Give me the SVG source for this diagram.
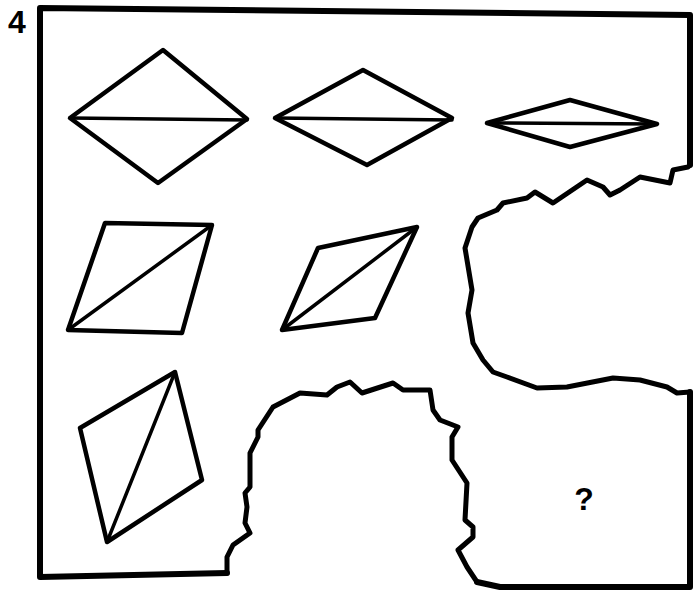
<svg xmlns="http://www.w3.org/2000/svg" width="697" height="591" viewBox="0 0 697 591">
<style>
.frame{fill:none;stroke:#000;stroke-width:6;stroke-linejoin:round;stroke-linecap:round}
.tear{fill:none;stroke:#000;stroke-width:5;stroke-linejoin:round;stroke-linecap:round}
.fig{fill:none;stroke:#000;stroke-width:4.5;stroke-linejoin:round;stroke-linecap:round}
.diag{fill:none;stroke:#000;stroke-width:3.5;stroke-linecap:round}
.lbl{font-family:"Liberation Sans","DejaVu Sans",sans-serif;font-weight:bold;fill:#000}
</style>
<rect width="697" height="591" fill="#fff"/>
<g id="frame">
<path class="frame" d="M690,165 L690,15 L40,8 L40,577 L227,573"/>
<path class="frame" d="M477,582 L500,587 L690,587 L690,392"/>
<path class="tear" d="M690,165 L688,167 L673,170 L670,183 L640,177 L620,190 L610,195 L603,187 L587,180 L553,203 L535,192 L527,198 L503,203 L497,210 L478,218 L472,227 L465,248 L472,290 L468,313 L473,343 L483,360 L493,372 L507,377 L537,388 L567,387 L613,378 L640,380 L667,387 L677,393 L690,392"/>
<path class="tear" d="M227,573 L227,557 L233,545 L250,533 L245,523 L247,507 L245,493 L250,487 L250,453 L258,437 L258,430 L273,407 L300,393 L327,395 L337,387 L350,382 L362,393 L393,383 L403,390 L430,390 L433,410 L440,420 L458,427 L452,437 L452,460 L467,483 L465,520 L473,527 L473,537 L458,550 L467,567 L477,582"/>
</g>
<g id="diamond1">
<polygon class="fig" points="70,118 163,50 247,119 158,183"/>
<line class="diag" x1="70" y1="118" x2="247" y2="120"/>
</g>
<g id="diamond2">
<polygon class="fig" points="275,118 363,70 452,118 367,165"/>
<line class="diag" x1="275" y1="118" x2="452" y2="120"/>
</g>
<g id="diamond3">
<polygon class="fig" points="487,123 570,100 657,124 570,147"/>
<line class="diag" x1="490" y1="123" x2="654" y2="124"/>
</g>
<g id="para1">
<polygon class="fig" points="105,223 212,225 182,333 68,330"/>
<line class="diag" x1="68" y1="330" x2="212" y2="225"/>
</g>
<g id="para2">
<polygon class="fig" points="318,248 417,227 375,318 282,330"/>
<line class="diag" x1="282" y1="330" x2="417" y2="227"/>
</g>
<g id="rhombus3">
<polygon class="fig" points="80,428 175,372 202,480 107,542"/>
<line class="diag" x1="107" y1="542" x2="175" y2="372"/>
</g>
<text class="lbl" x="17" y="33" font-size="32" text-anchor="middle">4</text>
<text class="lbl" x="584" y="510" font-size="32" text-anchor="middle">?</text>
</svg>
